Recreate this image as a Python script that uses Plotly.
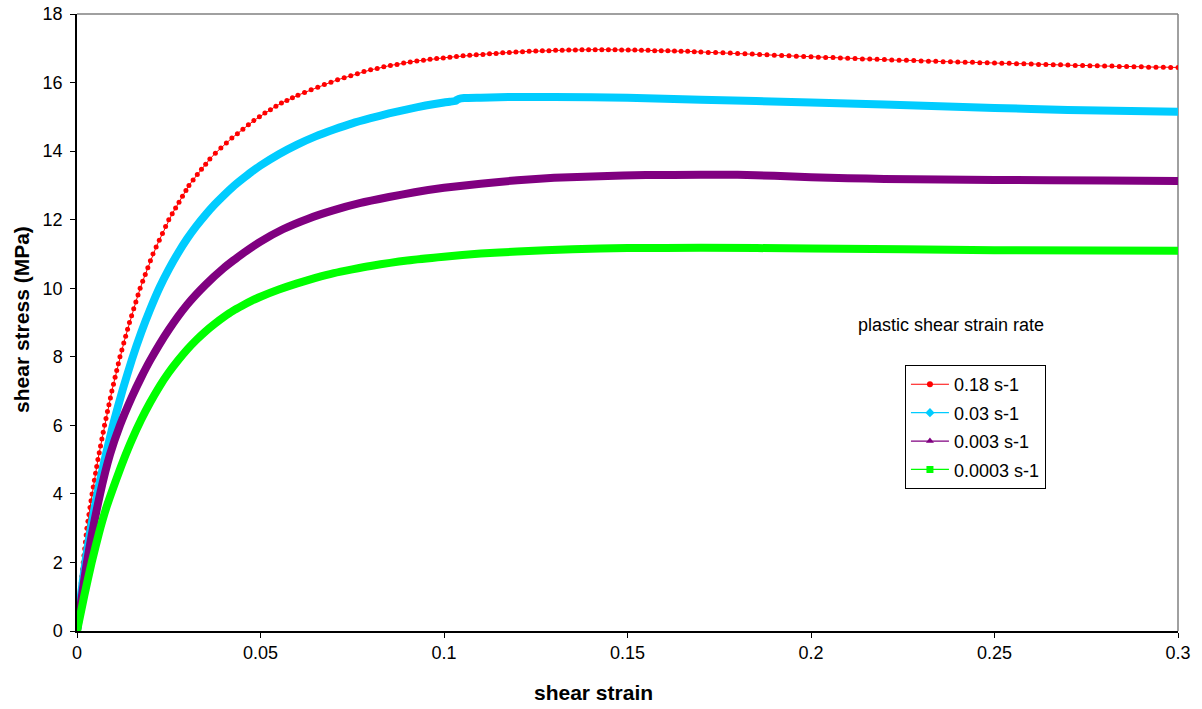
import plotly.graph_objects as go

# ---- data ----
series_names = ["0.18 s-1", "0.03 s-1", "0.003 s-1", "0.0003 s-1"]

red_points = [
    (0, 0), (0.00016, 0.2), (0.00032, 0.4), (0.00048, 0.6), (0.00064, 0.8), (0.0008, 1.0),
    (0.00098, 1.2), (0.00116, 1.4), (0.00134, 1.6), (0.00152, 1.8), (0.0017, 2.0),
    (0.0019, 2.2), (0.0021, 2.4), (0.0023, 2.6), (0.0025, 2.8), (0.0027, 3.0),
    (0.00298, 3.2), (0.00326, 3.4), (0.00354, 3.6), (0.00382, 3.8), (0.0041, 4.0),
    (0.00442, 4.2), (0.00474, 4.4), (0.00506, 4.6), (0.00538, 4.8), (0.0057, 5.0),
    (0.00606, 5.2), (0.00642, 5.4), (0.00678, 5.6), (0.00714, 5.8), (0.0075, 6.0),
    (0.0079, 6.2), (0.0083, 6.4), (0.0087, 6.6), (0.0091, 6.8), (0.0095, 7.0),
    (0.00994, 7.2), (0.01038, 7.4), (0.01082, 7.6), (0.01126, 7.8), (0.0117, 8.0),
    (0.01222, 8.2), (0.01274, 8.4), (0.01326, 8.6), (0.01378, 8.8), (0.0143, 9.0),
    (0.01488, 9.2), (0.01546, 9.4), (0.01604, 9.6), (0.01662, 9.8), (0.0172, 10.0),
    (0.0179, 10.2), (0.0186, 10.4), (0.0193, 10.6), (0.0200, 10.8), (0.0207, 11.0),
    (0.02156, 11.2), (0.02242, 11.4), (0.02328, 11.6), (0.02414, 11.8), (0.0250, 12.0),
    (0.02594, 12.17), (0.02687, 12.34), (0.0278, 12.51), (0.02874, 12.68), (0.02968, 12.85),
    (0.0305, 13.0), (0.03164, 13.16), (0.03278, 13.32), (0.03392, 13.47), (0.03506, 13.62),
    (0.0362, 13.77), (0.0377, 13.94), (0.0392, 14.09), (0.0407, 14.24), (0.0422, 14.38),
    (0.0437, 14.51), (0.0452, 14.64), (0.0467, 14.77), (0.0482, 14.89), (0.0497, 15.00),
    (0.0512, 15.11), (0.0527, 15.21), (0.0542, 15.31), (0.0557, 15.40), (0.0572, 15.48),
    (0.0587, 15.56), (0.0602, 15.63),
    (0.0620, 15.71), (0.0638, 15.79), (0.0656, 15.86), (0.0674, 15.94), (0.0692, 16.01),
    (0.0710, 16.08), (0.0728, 16.14), (0.0746, 16.20), (0.0764, 16.26), (0.0782, 16.32),
    (0.0800, 16.37), (0.0818, 16.41), (0.0836, 16.46), (0.0854, 16.50), (0.0872, 16.53),
    (0.0890, 16.57), (0.0908, 16.60), (0.0926, 16.63), (0.0944, 16.65), (0.0962, 16.68),
    (0.0980, 16.70), (0.0998, 16.72), (0.1016, 16.74), (0.1034, 16.76), (0.1052, 16.78),
    (0.1070, 16.80), (0.1088, 16.81), (0.1106, 16.82), (0.1124, 16.84), (0.1142, 16.85),
    (0.1160, 16.87), (0.1178, 16.88), (0.1196, 16.89), (0.1214, 16.90), (0.1232, 16.91),
    (0.1250, 16.92), (0.1268, 16.93), (0.1286, 16.93), (0.1304, 16.94), (0.1322, 16.94),
    (0.1340, 16.95), (0.1358, 16.95), (0.1376, 16.96), (0.1394, 16.96), (0.1412, 16.96),
    (0.1430, 16.96), (0.1448, 16.96), (0.1466, 16.96), (0.1484, 16.95), (0.1502, 16.95),
    (0.1520, 16.95), (0.1538, 16.94), (0.1556, 16.94), (0.1574, 16.93), (0.1592, 16.93),
    (0.1610, 16.93), (0.1628, 16.92), (0.1646, 16.91), (0.1664, 16.91), (0.1682, 16.90),
    (0.1700, 16.89),
    (0.172, 16.88), (0.174, 16.88), (0.176, 16.87), (0.178, 16.86), (0.180, 16.85),
    (0.182, 16.84), (0.184, 16.83), (0.186, 16.82), (0.188, 16.81), (0.190, 16.80),
    (0.192, 16.79), (0.194, 16.78), (0.196, 16.77), (0.198, 16.76), (0.200, 16.75),
    (0.202, 16.74), (0.204, 16.73), (0.206, 16.73), (0.208, 16.72), (0.210, 16.71),
    (0.212, 16.70), (0.214, 16.69), (0.216, 16.69), (0.218, 16.68), (0.220, 16.67),
    (0.222, 16.66), (0.224, 16.65), (0.226, 16.65), (0.228, 16.64), (0.230, 16.63),
    (0.232, 16.62), (0.234, 16.62), (0.236, 16.61), (0.238, 16.61), (0.240, 16.60),
    (0.242, 16.59), (0.244, 16.59), (0.246, 16.58), (0.248, 16.58), (0.250, 16.57),
    (0.252, 16.56), (0.254, 16.56), (0.256, 16.55), (0.258, 16.55), (0.260, 16.54),
    (0.262, 16.53), (0.264, 16.53), (0.266, 16.52), (0.268, 16.52), (0.270, 16.51),
    (0.272, 16.50), (0.274, 16.50), (0.276, 16.49), (0.278, 16.49), (0.280, 16.48),
    (0.282, 16.48), (0.284, 16.47), (0.286, 16.47), (0.288, 16.46), (0.290, 16.46),
    (0.292, 16.45), (0.294, 16.45), (0.296, 16.45), (0.298, 16.44), (0.300, 16.44),
]
red_strain = [p[0] for p in red_points]
red_stress = [p[1] for p in red_points]

cyan_strain = [0, 0.001, 0.0025, 0.004, 0.006, 0.008, 0.010, 0.0125, 0.015, 0.0175,
               0.020, 0.0225, 0.025, 0.0275, 0.030, 0.0325, 0.035, 0.0375, 0.040, 0.0425,
               0.045, 0.0475, 0.050, 0.055, 0.060, 0.065, 0.070, 0.075, 0.080, 0.085,
               0.090, 0.095, 0.100, 0.1016, 0.1030, 0.1040, 0.1055, 0.110, 0.115, 0.120,
               0.130, 0.150, 0.170, 0.200, 0.220, 0.250, 0.270, 0.300]
cyan_stress = [0, 0.98, 2.17, 3.14, 4.25, 5.21, 6.09, 7.06, 7.93, 8.71,
               9.40, 10.02, 10.55, 11.02, 11.44, 11.81, 12.14, 12.44, 12.71, 12.96,
               13.18, 13.39, 13.58, 13.91, 14.19, 14.43, 14.63, 14.81, 14.96, 15.10,
               15.22, 15.33, 15.42, 15.44, 15.46, 15.52, 15.55, 15.56, 15.57, 15.58,
               15.58, 15.56, 15.50, 15.42, 15.36, 15.26, 15.20, 15.15]

purple_strain = [0, 0.0027, 0.0063, 0.009, 0.0117, 0.015, 0.0175, 0.020, 0.025, 0.030,
                 0.035, 0.040, 0.0425, 0.045, 0.050, 0.0561, 0.063, 0.0698, 0.077, 0.085,
                 0.092, 0.100, 0.110, 0.120, 0.130, 0.1425, 0.155, 0.170, 0.180, 0.190,
                 0.200, 0.210, 0.220, 0.250, 0.280, 0.300]
purple_stress = [0, 2.0, 4.0, 5.15, 6.0, 6.84, 7.40, 7.91, 8.79, 9.52,
                 10.10, 10.59, 10.80, 11.0, 11.36, 11.72, 12.03, 12.27, 12.48, 12.66,
                 12.80, 12.93, 13.05, 13.15, 13.22, 13.27, 13.30, 13.31, 13.31, 13.28,
                 13.24, 13.21, 13.19, 13.16, 13.14, 13.13]

green_strain = [0, 0.002, 0.004, 0.006, 0.008, 0.0108, 0.0125, 0.015, 0.0175, 0.020,
                0.0225, 0.025, 0.0275, 0.030, 0.0325, 0.035, 0.0375, 0.040, 0.0425, 0.045,
                0.0475, 0.050, 0.055, 0.060, 0.065, 0.070, 0.075, 0.080, 0.090, 0.100,
                0.110, 0.120, 0.135, 0.150, 0.170, 0.200, 0.250, 0.300]
green_stress = [0, 1.04, 2.0, 2.86, 3.6, 4.45, 4.94, 5.59, 6.17, 6.68,
                7.14, 7.54, 7.89, 8.21, 8.49, 8.74, 8.96, 9.16, 9.34, 9.49,
                9.63, 9.75, 9.96, 10.14, 10.30, 10.44, 10.55, 10.65, 10.81, 10.92,
                11.01, 11.07, 11.14, 11.17, 11.18, 11.16, 11.11, 11.09]

x_ticks = [0, 0.05, 0.1, 0.15, 0.2, 0.25, 0.3]
x_tick_text = ["0", "0.05", "0.1", "0.15", "0.2", "0.25", "0.3"]
y_ticks = [0, 2, 4, 6, 8, 10, 12, 14, 16, 18]

colors = ["#FF0000", "#00CCFF", "#800080", "#00FF00"]
legend_symbols = ["circle", "diamond", "triangle-up", "square"]

FONT = "Liberation Sans, Arial, sans-serif"

fig = go.Figure()

fig.add_trace(go.Scatter(
    x=red_strain, y=red_stress, mode="lines+markers",
    line=dict(color=colors[0], width=1),
    marker=dict(size=5, color=colors[0]),
    showlegend=False, hoverinfo="skip"))

for xs, ys, c in [(cyan_strain, cyan_stress, colors[1]),
                  (purple_strain, purple_stress, colors[2]),
                  (green_strain, green_stress, colors[3])]:
    fig.add_trace(go.Scatter(
        x=xs, y=ys, mode="lines",
        line=dict(color=c, width=8, shape="spline", smoothing=0.5),
        showlegend=False, hoverinfo="skip"))

# legend entries (thin line with marker, like the original legend)
for i, (name, c, sym) in enumerate(zip(series_names, colors, legend_symbols)):
    fig.add_trace(go.Scatter(
        x=[None], y=[None], mode="lines+markers", name=name,
        line=dict(color=c, width=1.2),
        marker=dict(color=c, size=7 if sym != "circle" else 6, symbol=sym),
        legendgroup=f"g{i}", showlegend=True))

L, R, T, B = 77, 24, 14, 78
fig.update_layout(
    width=1202, height=709,
    margin=dict(l=L, r=R, t=T, b=B, pad=0, autoexpand=False),
    paper_bgcolor="white", plot_bgcolor="white",
    font=dict(family=FONT, size=18, color="black"),
    showlegend=True,
    legend=dict(
        x=0.752, y=0.431, xanchor="left", yanchor="top",
        bgcolor="white", bordercolor="black", borderwidth=1,
        font=dict(family=FONT, size=18, color="black"),
        tracegroupgap=2, traceorder="grouped",
        itemwidth=38,
    ),
    xaxis=dict(
        range=[0, 0.3], tickvals=x_ticks, ticktext=x_tick_text, automargin=False,
        showgrid=False, zeroline=False, showline=True, linecolor="black", linewidth=1.5,
        ticks="outside", ticklen=5, tickcolor="black", tickwidth=1,
        tickfont=dict(family=FONT, size=18), ticklabelstandoff=0,
    ),
    yaxis=dict(
        range=[0, 18], tickvals=y_ticks, automargin=False,
        showgrid=False, zeroline=False, showline=True, linecolor="black", linewidth=1.5,
        ticks="outside", ticklen=5, tickcolor="black", tickwidth=1,
        tickfont=dict(family=FONT, size=18), ticklabelstandoff=4,
    ),
    annotations=[
        dict(text="plastic shear strain rate", xref="paper", yref="paper",
             x=0.794, y=0.496, xanchor="center", yanchor="middle", showarrow=False,
             font=dict(family=FONT, size=18, color="black")),
        dict(text="<b>shear strain</b>", xref="paper", yref="paper",
             x=0.4687, y=-0.0989, xanchor="center", yanchor="middle", showarrow=False,
             font=dict(family=FONT, size=21, color="black")),
        dict(text="<b>shear stress (MPa)</b>", xref="paper", yref="paper",
             x=-0.05, y=0.5057, xanchor="center", yanchor="middle", showarrow=False,
             textangle=-90, font=dict(family=FONT, size=21, color="black")),
    ],
    shapes=[
        dict(type="line", xref="paper", yref="paper", x0=0, x1=1, y0=1, y1=1,
             line=dict(color="#808080", width=1.5), layer="below"),
        dict(type="line", xref="paper", yref="paper", x0=1, x1=1, y0=0, y1=1,
             line=dict(color="#808080", width=1.5), layer="below"),
    ],
)

fig.write_html("out.html")
